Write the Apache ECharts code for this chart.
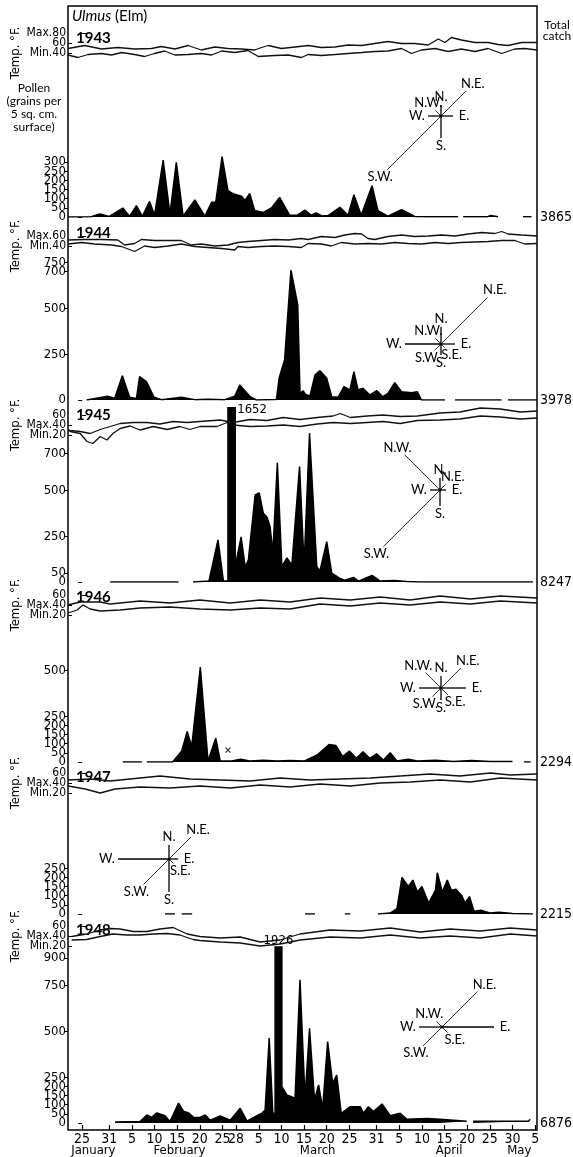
<!DOCTYPE html>
<html>
<head>
<meta charset="utf-8">
<script src="https://cdn.jsdelivr.net/npm/echarts@6/dist/echarts.min.js"></script>
<style>
  html, body { margin: 0; padding: 0; background: #fff; }
  #chart { width: 573px; height: 1157px; }
</style>
</head>
<body>
<div id="chart"></div>
<script>
// days are counted from 25 January
const TICK_DAYS = [0, 6, 11, 16, 21, 26, 31, 34, 39, 44, 49, 54, 59, 65, 70, 75, 80, 85, 90, 95, 100];
const TICK_LABELS = ['25', '31', '5', '10', '15', '20', '25', '28', '5', '10', '15', '20', '25', '31', '5', '10', '15', '20', '25', '30', '5'];
const MONTH_DAYS = [2.5, 21.5, 52, 81, 96.5];
const MONTH_NAMES = ['January', 'February', 'March', 'April', 'May'];

const YEARS = ['1943', '1944', '1945', '1946', '1947', '1948'];
const TOTALS = ['3865', '3978', '8247', '2294', '2215', '6876'];
const TEMP_TICKS = [[80, 60, 40], [60, 40], [60, 40, 20], [60, 40, 20], [60, 40, 20], [60, 40, 20]];
const POLLEN_TICKS = [
  [0, 50, 100, 150, 200, 250, 300],
  [0, 250, 500, 700, 750],
  [0, 50, 250, 500, 700],
  [0, 50, 100, 150, 200, 250, 500],
  [0, 50, 100, 150, 200, 250],
  [0, 50, 100, 150, 200, 250, 500, 750, 900]
];

// daily max / min temperature, [day, °F]
const max1943 = [[-3.1,49],[0.6,55],[4.3,48],[7.9,51],[11.6,48],[15.3,49],[17.5,53],[20.5,48],[23.4,55],[26.3,46],[29.3,52],[32.2,49],[35.2,48],[38.1,46],[39.6,51],[41.1,55],[44,49],[47,52],[49.9,55],[52.8,51],[55.8,52],[58.7,56],[61.7,55],[64.6,59],[67.5,63],[70.5,59],[73.4,59],[76.4,56],[78.6,68],[80.1,61],[81.5,71],[83.7,66],[86.7,61],[89.6,61],[91.8,57],[94,55],[97,61],[100.4,61]];
const min1943 = [[-3.1,36],[-0.9,31],[1.3,37],[4.3,39],[6.5,36],[8.7,41],[11.6,37],[13.8,33],[16,39],[18.2,44],[20.5,36],[23.4,37],[26.3,39],[28.6,36],[30.8,44],[33.7,41],[36.6,45],[38.9,33],[42.5,35],[45.5,36],[48.4,31],[49.9,37],[52.8,35],[55.8,37],[58.7,39],[61.7,41],[64.6,43],[67.5,44],[70.5,49],[72.7,39],[74.9,46],[77.9,49],[80.8,43],[83.7,48],[86.7,43],[89.6,49],[92.6,39],[95.5,48],[97.7,49],[100.4,46]];
const max1944 = [[-3.1,52],[0.6,53],[4.3,53],[7.9,52],[9.4,42],[11.6,45],[13.1,53],[16,51],[19,51],[21.9,51],[24.1,42],[26.3,44],[29.3,40],[32.2,42],[34.4,47],[36.6,49],[39.6,51],[42.5,53],[45.5,52],[48.4,55],[49.9,53],[52.8,59],[55.8,57],[58,62],[60.2,65],[61.7,64],[63.1,55],[64.6,53],[67.5,59],[70.5,62],[73.4,59],[76.4,60],[79.3,62],[82.3,60],[85.2,64],[88.2,67],[91.1,65],[92.6,69],[94,64],[97,62],[100.4,60]];
const min1944 = [[-3.1,44],[-0.1,47],[2.8,44],[6.5,42],[8.7,39],[11.6,29],[13.8,40],[16,37],[19,40],[21.9,44],[24.9,39],[27.8,37],[30.8,35],[33.7,32],[34.4,39],[36.6,37],[39.6,39],[42.5,40],[45.5,39],[48.4,37],[49.9,45],[52.8,44],[55,40],[57.2,47],[60.2,44],[63.1,45],[66.1,44],[69,47],[72,45],[74.9,44],[77.9,47],[80.8,45],[83.7,47],[86.7,48],[89.6,49],[92.6,51],[95.5,51],[97.7,44],[100.4,45]];
const max1945 = [[-3.1,30],[-2.6,29],[-0.4,27],[1.8,23],[4,31],[6.2,37],[8.4,43],[11.3,45],[14.3,45],[17.2,42],[20.1,47],[23.2,45],[26,47],[30.5,50],[33.3,45],[37.1,51],[40.8,49],[44.4,55],[48.1,51],[51.9,55],[55.4,58],[57,63],[59.2,55],[62.9,58],[66.4,60],[70.2,57],[74,58],[79,64],[83.4,66],[87.9,74],[92.3,72],[96.7,66],[100.4,68]];
const min1945 = [[-3.1,30],[-2.6,27],[-0.4,23],[1.1,7],[2.4,3],[4,17],[5.5,10],[6.8,23],[8.4,33],[10.6,38],[12.8,30],[15.7,37],[18.8,31],[21.6,37],[23.8,31],[26,37],[29.8,37],[32,45],[33.3,40],[37.1,37],[40.8,38],[44.4,40],[48.1,37],[51.9,42],[55.4,45],[59.2,43],[62.9,45],[66.4,47],[70.2,43],[74,49],[79,50],[83.4,52],[87.9,58],[92.3,56],[96.7,52],[100.4,54]];
const max1946 = [[-3.1,40],[-0.4,46],[4,46],[6.2,42],[12.8,48],[19.4,44],[26,50],[32.7,44],[39.3,50],[45.9,46],[52.5,54],[59.2,50],[65.8,56],[72.4,50],[79,58],[85.7,52],[92.3,58],[100.4,54]];
const min1946 = [[-3.1,24],[-1.1,30],[0.2,40],[1.8,32],[4,28],[8.4,30],[12.8,34],[19.4,36],[26,32],[32.7,30],[39.3,34],[45.9,32],[52.5,42],[59.2,38],[65.8,44],[72.4,40],[79,46],[85.7,42],[92.3,48],[100.4,44]];
const max1947 = [[-3.1,46],[1.8,48],[6.2,44],[10.6,48],[17.2,54],[23.8,48],[30.5,46],[37.1,44],[43.7,50],[50.3,46],[57,48],[63.6,50],[70.2,54],[76.8,58],[83.4,54],[90.1,60],[94.5,56],[100.4,58]];
const min1947 = [[-3.1,34],[0.7,28],[4,20],[7.3,28],[12.8,32],[19.4,30],[26,34],[32.7,30],[39.3,36],[45.9,32],[52.5,38],[59.2,34],[65.8,40],[72.4,42],[79,46],[85.7,42],[92.3,50],[100.4,46]];
const max1948 = [[-2.3,39],[1,44],[4,52],[6.2,55],[8.4,54],[11.3,49],[14.3,49],[17.2,54],[20.1,57],[23.2,44],[26,39],[30.5,36],[34.9,38],[39.3,28],[43.7,32],[48.1,44],[54.7,52],[61.4,50],[68,56],[74.6,48],[81.2,54],[87.9,50],[94.5,56],[100.4,52]];
const min1948 = [[-2.3,32],[1,33],[4,39],[6.8,44],[9.9,42],[12.8,42],[15.7,44],[18.8,45],[21.6,42],[24.5,33],[26,31],[30.5,28],[34.9,26],[39.3,20],[43.7,24],[48.1,32],[54.7,38],[61.4,36],[68,42],[74.6,36],[81.2,40],[87.9,36],[94.5,44],[100.4,40]];

// pollen catch, [day, grains]; null = no record
const pollen1943 = [[-3.1,0],[2,2],[3.9,16],[6,3],[9,49],[10.5,3],[12,62],[13.3,3],[14.9,85],[16,10],[17.9,311],[19.4,16],[20.8,298],[22.3,5],[24.9,93],[27.1,5],[28.6,80],[29.5,80],[30.9,329],[32.2,144],[33.5,125],[35.2,113],[36,90],[37,129],[38.1,35],[40,25],[41.8,49],[43.6,107],[45.8,10],[47.5,10],[49.2,38],[50.5,10],[51.7,22],[53,5],[54.3,8],[56.9,53],[58.7,10],[60,122],[61.6,10],[64,171],[65.3,35],[67.5,5],[70.5,40],[73.4,3],[76,1],[83,1],null,[84.1,1],[89.5,1],[90.2,8],[91.8,1],null,[97.3,1],[99.2,1]];
const pollen1944 = [[1,0],[5.7,20],[7.2,9],[8.9,133],[10.5,15],[12,8],[12.7,127],[14.2,100],[15.9,15],[17.5,2],[21.9,15],[24.9,2],[27.8,4],[31.5,2],[33.7,20],[34.8,82],[37,20],[38.5,0],[42.9,3],[43.5,120],[44.7,220],[46.1,709],[47.6,520],[48.1,36],[48.8,50],[49.3,30],[50.3,22],[51.4,136],[52.5,160],[54,118],[55.1,18],[56.5,15],[57.8,73],[59.1,55],[60,155],[60.9,55],[62,64],[63.5,27],[65,51],[66.4,18],[67.5,36],[69,95],[70.5,45],[72.7,40],[74,45],[74.9,0],[80.1,0],null,[82.3,0],[92.6,0],null,[94,0],[100.4,0]];
const pollen1945 = [[6.2,0],[21.3,0],null,[24.5,0],[28,5],[30,230],[31.2,5],[32.2,5],[32.2,1652],[33.8,1652],[33.8,84],[35.1,246],[36,82],[36.7,120],[38.2,475],[39.1,486],[40,375],[40.8,355],[41.5,302],[42.1,158],[43.1,650],[44.1,82],[45.2,131],[46.3,93],[48,630],[49,93],[50.2,812],[51.8,84],[52.5,60],[54,220],[55.1,49],[56.9,20],[58,10],[59.9,25],[61,5],[64,36],[65.8,5],[68.8,8],[71.7,3],[74.6,0],[99.5,0]];
const pollen1946 = [[9,0],[13.2,0],null,[14.3,0],[20,0],[22,60],[23.2,166],[24.2,84],[26.1,518],[27.8,5],[29.5,130],[30.5,5],[33,5],[35,15],[37,5],[40,10],[43,5],[46,8],[49,5],[52,40],[54.5,95],[56,90],[57.5,30],[59,60],[60.5,20],[62,55],[63.5,20],[65,45],[66.5,10],[68,50],[69.5,5],[72,15],[74,5],[78,10],[82,3],[86,8],[90,3],[95,3],null,[97.5,0],[99,0]];
const pollen1947 = [[18.3,0],[20.5,0],null,[22,0],[24.3,0],null,[49.2,0],[51.4,0],null,[58,0],[59.2,0],null,[65.3,0],[68,5],[69.5,30],[70.6,200],[72,150],[73,185],[74,120],[75,150],[76.5,60],[78,130],[78.4,225],[79.5,120],[80.6,185],[81.5,130],[82.5,135],[83.8,100],[84.5,60],[85.5,95],[86.5,15],[88,20],[90,5],[92,10],[95,3],[99.5,0]];
const pollen1948 = [[7.3,5],[12.8,8],[14.3,44],[15.4,31],[16.5,55],[18.3,40],[19.4,8],[21.3,109],[22.4,64],[23.5,55],[24.6,31],[26,30],[27.2,44],[28.3,15],[30.5,38],[32.7,15],[34.9,80],[36.4,10],[38.6,40],[39.7,53],[40.4,71],[41.3,463],[42.1,53],[42.6,53],[42.6,1926],[44.1,1926],[44.1,198],[45.2,153],[47,135],[48.1,781],[49.2,135],[50.2,517],[51.3,126],[52.2,208],[53.1,80],[54.2,444],[55.3,217],[56.2,262],[57.2,53],[59.2,89],[61.4,89],[62.1,53],[63.2,89],[64.3,62],[66.2,104],[68,40],[70.2,53],[71.7,20],[76.1,25],[79,20],[84.9,10],null,[86.3,10],[98.5,10],[98.9,20]];

// off-scale peaks, [day, grains]
const PEAKS = [null, null, [33.8, 1652], null, null, [43.35, 1926]];
// small crosses on the pollen curves, [day, grains]
const CROSSES = [[30.9, 20], [46.1, 33], [43, 49], [32.2, 65], [78.4, 38], [43, 44]];

// wind roses: N, N.E., E, S.E., S, S.W., W, N.W.
const ROSE_DIRS = ['N.', 'N.E.', 'E.', 'S.E.', 'S.', 'S.W.', 'W.', 'N.W.'];
const ROSE_1943 = [11, 35, 12, 0, 22, 76, 13, 8];
const ROSE_1944 = [17, 66, 14, 5, 11, 9, 36, 8];
const ROSE_1945 = [12, 8, 6, 0, 16, 80, 10, 50];
const ROSE_1946 = [12, 28, 25, 10, 12, 12, 22, 22];
const ROSE_1947 = [14, 31, 9, 6, 33, 36, 51, 0];
const ROSE_1948 = [0, 50, 52, 8, 0, 27, 23, 8];

const MAXES = [max1943, max1944, max1945, max1946, max1947, max1948];
const MINS = [min1943, min1944, min1945, min1946, min1947, min1948];
const POLLEN = [pollen1943, pollen1944, pollen1945, pollen1946, pollen1947, pollen1948];
const ROSES = [ROSE_1943, ROSE_1944, ROSE_1945, ROSE_1946, ROSE_1947, ROSE_1948];

// layout (pixels)
const FONT = "'Liberation Sans Narrow', 'DejaVu Sans Condensed', 'Open Sans', sans-serif";
const FONT_WIDE = "Lato, 'Open Sans', sans-serif";
const L = 68, W = 469;
const X_MIN = -3.1, X_MAX = 100.4;
const PX_PER_F = 0.5, PX_PER_GRAIN = 0.1833;
const TEMP_40_Y = [53, 246, 425, 605, 783, 936];
const POLLEN_0_Y = [217, 400, 582, 762, 914, 1123];
const POLLEN_MAX = [450, 800, 950, 700, 500, 960];
const YEAR_Y = [38, 233, 415, 597, 777, 930];
const PEAK_LABEL_POS = [null, null, 'right', null, null, 'top'];
const ROSE_XY = [[441, 116], [441, 344], [440, 490], [441, 688], [169, 859], [442, 1027]];

const chart = echarts.init(document.getElementById('chart'));

const labelBase = { color: '#000', fontFamily: FONT, hideOverlap: false, showMinLabel: true, showMaxLabel: true };

const grids = [{ left: L, width: W, top: 6, height: 1124, show: true, borderColor: '#000', borderWidth: 1.5, outerBoundsMode: 'none' }];
const xAxes = [
  {
    gridIndex: 0, type: 'value', min: X_MIN, max: X_MAX, position: 'bottom',
    axisLine: { show: false }, splitLine: { show: false },
    axisTick: { inside: true, length: 5, lineStyle: { color: '#000', width: 1.2 }, customValues: TICK_DAYS },
    axisLabel: Object.assign({}, labelBase, { customValues: TICK_DAYS, fontSize: 14, margin: 2,
      formatter: v => TICK_LABELS[TICK_DAYS.indexOf(v)] })
  },
  {
    gridIndex: 0, type: 'value', min: X_MIN, max: X_MAX, position: 'bottom', offset: 12,
    axisLine: { show: false }, axisTick: { show: false }, splitLine: { show: false },
    axisLabel: Object.assign({}, labelBase, { customValues: MONTH_DAYS, fontSize: 13, margin: 2,
      formatter: v => MONTH_NAMES[MONTH_DAYS.indexOf(v)] })
  }
];
const yAxes = [{ gridIndex: 0, type: 'value', show: false, min: 0, max: 1 }];
const series = [];
const graphics = [];

// one axis per tick label, so crowded labels are all kept
function tickAxes(gridIndex, max, values, opts) {
  const first = yAxes.length;
  values.forEach((v, n) => {
    yAxes.push({
      gridIndex: gridIndex, type: 'value', min: 0, max: max, position: opts.position || 'left',
      axisLine: { show: false }, splitLine: { show: false },
      name: n === 0 ? opts.name : '', nameLocation: 'middle', nameRotate: 90, nameGap: 46, nameMoveOverlap: false,
      nameTextStyle: { color: '#000', fontSize: 13, fontFamily: FONT },
      axisTick: { show: opts.tick > 0, inside: !!opts.inside, length: opts.tick, customValues: [v], lineStyle: { color: '#000' } },
      axisLabel: Object.assign({}, labelBase, { customValues: [v], fontSize: opts.fontSize, margin: opts.margin || 2,
        formatter: () => opts.text(v) })
    });
  });
  return first;
}

YEARS.forEach((year, i) => {
  const tGrid = grids.length;
  grids.push({ left: L, width: W, top: TEMP_40_Y[i] - 40 * PX_PER_F, height: 80 * PX_PER_F, outerBoundsMode: 'none' });
  const pGrid = grids.length;
  const pH = POLLEN_MAX[i] * PX_PER_GRAIN;
  grids.push({ left: L, width: W, top: POLLEN_0_Y[i] - pH, height: pH, outerBoundsMode: 'none' });

  const tX = xAxes.length;
  xAxes.push({ gridIndex: tGrid, type: 'value', min: X_MIN, max: X_MAX, show: false });
  const pX = xAxes.length;
  xAxes.push({ gridIndex: pGrid, type: 'value', min: X_MIN, max: X_MAX, show: false });

  const ticks = TEMP_TICKS[i];
  const tY = tickAxes(tGrid, 80, ticks, {
    name: 'Temp. °F.', inside: true, tick: 4, fontSize: 12,
    text: v => {
      if (v === ticks[0] && (ticks.length === 2 || v === 80)) return 'Max.' + v;
      if (v === ticks[1] && ticks.length === 3 && ticks[0] === 60) return 'Max.' + v;
      if (v === ticks[ticks.length - 1]) return 'Min.' + v;
      return '' + v;
    }
  });
  const pY = tickAxes(pGrid, POLLEN_MAX[i], POLLEN_TICKS[i], { tick: 4, fontSize: 13, text: v => '' + v });
  tickAxes(pGrid, POLLEN_MAX[i], [0], { position: 'right', tick: 0, margin: 3, fontSize: 14, text: () => TOTALS[i] });

  const tempLine = { type: 'line', xAxisIndex: tX, yAxisIndex: tY, symbol: 'none', silent: true,
    lineStyle: { color: '#111', width: 1.3 } };
  series.push(Object.assign({ data: MAXES[i] }, tempLine));
  series.push(Object.assign({ data: MINS[i] }, tempLine));

  const area = {
    type: 'line', xAxisIndex: pX, yAxisIndex: pY, symbol: 'none', silent: true,
    connectNulls: false, clip: true,
    data: POLLEN[i].map(p => p === null ? ['-', '-'] : p),
    lineStyle: { color: '#000', width: 1.5 },
    areaStyle: { color: '#000', opacity: 1 }
  };
  if (PEAKS[i]) {
    area.markPoint = {
      symbol: 'circle', symbolSize: 0,
      data: [{ coord: [PEAKS[i][0], POLLEN_MAX[i] * 0.99], value: PEAKS[i][1] }],
      label: { show: true, position: PEAK_LABEL_POS[i], distance: 2, color: '#000', fontSize: 13, fontFamily: FONT, formatter: p => p.value }
    };
  }
  series.push(area);
  series.push({
    type: 'scatter', xAxisIndex: pX, yAxisIndex: pY, silent: true,
    data: [CROSSES[i]], symbol: 'path://M0,0L10,10M10,0L0,10', symbolSize: 5,
    itemStyle: { color: 'transparent', borderColor: i === 3 ? '#000' : '#fff', borderWidth: 1.2 }
  });

  graphics.push({ type: 'text', x: L + 8, y: YEAR_Y[i], style: { text: year, font: 'bold 15px ' + FONT_WIDE, fill: '#000', verticalAlign: 'middle' } });

  // wind rose
  const [cx, cy] = ROSE_XY[i];
  ROSES[i].forEach((len, k) => {
    if (!len) return;
    const a = (90 - 45 * k) * Math.PI / 180;
    const dx = Math.cos(a), dy = -Math.sin(a);
    graphics.push({ type: 'line', shape: { x1: cx, y1: cy, x2: cx + dx * len, y2: cy + dy * len },
      style: { stroke: '#000', lineWidth: k % 2 ? 0.8 : 1.3 } });
    const r = len + (k % 4 === 2 ? 11 : (k % 4 === 0 ? 8 : 10));
    graphics.push({ type: 'text', x: cx + dx * r, y: cy + dy * r,
      style: { text: ROSE_DIRS[k], font: '13px ' + FONT_WIDE, fill: '#000', align: 'center', verticalAlign: 'middle' } });
  });
  graphics.push({ type: 'circle', shape: { cx: cx, cy: cy, r: 1.5 }, style: { fill: '#000' } });
});

graphics.push({
  type: 'text', x: L + 4, y: 16,
  style: { text: '{i|Ulmus} (Elm)', font: '15px ' + FONT_WIDE, fill: '#000', verticalAlign: 'middle',
    rich: { i: { fontStyle: 'italic', fontSize: 15, fontFamily: FONT_WIDE } } }
});
graphics.push({
  type: 'text', x: 34, y: 82,
  style: { text: 'Pollen\n(grains per\n5 sq. cm.\nsurface)', font: '12px ' + FONT_WIDE, fill: '#000', align: 'center', lineHeight: 13 }
});
graphics.push({
  type: 'text', x: 557, y: 20,
  style: { text: 'Total\ncatch', font: '12px ' + FONT_WIDE, fill: '#000', align: 'center', lineHeight: 11 }
});

chart.setOption({
  animation: false,
  backgroundColor: '#fff',
  grid: grids,
  xAxis: xAxes,
  yAxis: yAxes,
  series: series,
  graphic: { elements: graphics }
});
</script>
</body>
</html>
